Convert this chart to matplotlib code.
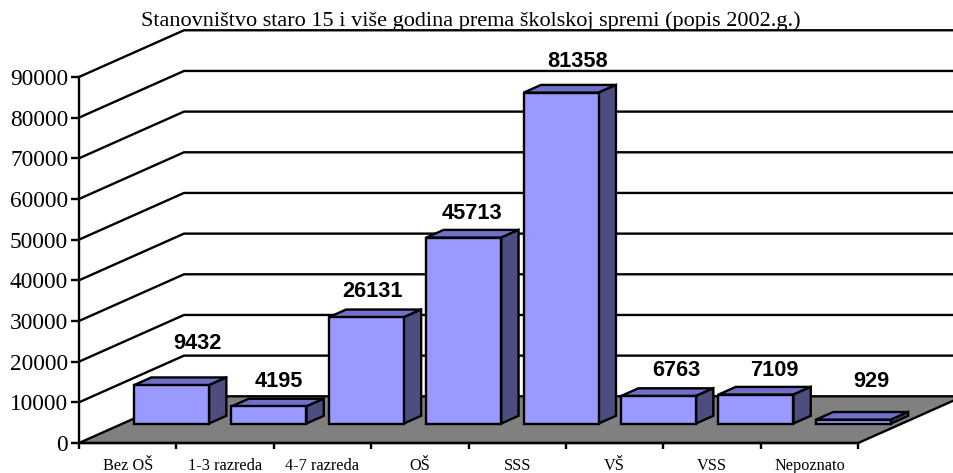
import matplotlib
matplotlib.use('Agg')
import matplotlib.pyplot as plt

# podaci
categories = ['Bez OŠ', '1-3 razreda', '4-7 razreda', 'OŠ', 'SSS', 'VŠ', 'VSS', 'Nepoznato']
values = [9432, 4195, 26131, 45713, 81358, 6763, 7109, 929]
y_ticks = list(range(0, 100000, 10000))
title = 'Stanovništvo staro 15 i više godina prema školskoj spremi (popis 2002.g.)'

# ručno pomaknute oznake u izvorniku (pikseli, desno i gore od vrha stupca)
label_nudge = [(26, 42), (10, 25), (6, 26), (8, 24), (16, 31), (18, 25), (18, 24), (18, 38)]

W, H = 954, 473
X0, Y0 = 79, 443        # ishodište u pikselima
PX_CAT = 97.4           # pikseli po kategoriji
PX_VAL = 40.67 / 10000  # pikseli po jedinici
DEPTH_X = 105 / PX_CAT  # pomak stražnjeg zida
DEPTH_Y = 46.7 / PX_VAL
BAR_W = 0.77
BAR_D0, BAR_D1 = 0.4175, 0.5825

FRONT = '#9999ff'
TOP = '#7070c8'
SIDE = '#4d4d80'
FLOOR = '#808080'
LW = 1.7


def proj(x, y, d):
    return x + d * DEPTH_X, y + d * DEPTH_Y


def face(ax, pts, color, z):
    xs = [p[0] for p in pts]
    ys = [p[1] for p in pts]
    ax.fill(xs, ys, facecolor=color, edgecolor='black', lw=LW, joinstyle='miter', zorder=z)


fig = plt.figure(figsize=(W / 100, H / 100), dpi=100)
ax = fig.add_axes([0, 0, 1, 1])
ax.set_xlim(-X0 / PX_CAT, (W - X0) / PX_CAT)
ax.set_ylim((Y0 - H) / PX_VAL, Y0 / PX_VAL)
ax.patch.set_alpha(0)

n = len(categories)

# mreža na zidovima
for t in y_ticks[1:]:
    pts = [proj(0, t, 0), proj(0, t, 1), proj(n, t, 1)]
    ax.plot([p[0] for p in pts], [p[1] for p in pts], color='black', lw=LW, zorder=1)

# pod
face(ax, [proj(0, 0, 0), proj(n, 0, 0), proj(n, 0, 1), proj(0, 0, 1)], FLOOR, 2)

# stupci
gap = (1 - BAR_W) / 2
for i, v in enumerate(values):
    x0, x1 = i + gap, i + 1 - gap
    face(ax, [proj(x0, v, BAR_D0), proj(x1, v, BAR_D0), proj(x1, v, BAR_D1), proj(x0, v, BAR_D1)], TOP, 3 + i)
    face(ax, [proj(x1, 0, BAR_D0), proj(x1, 0, BAR_D1), proj(x1, v, BAR_D1), proj(x1, v, BAR_D0)], SIDE, 3 + i)
    face(ax, [proj(x0, 0, BAR_D0), proj(x1, 0, BAR_D0), proj(x1, v, BAR_D0), proj(x0, v, BAR_D0)], FRONT, 3 + i)
    lx, ly = proj((x0 + x1) / 2, v, BAR_D0)
    dx, dy = label_nudge[i]
    ax.annotate(str(v), (lx, ly), xytext=(dx * 0.72, dy * 0.72), textcoords='offset points',
                ha='center', va='center', family='Liberation Sans', weight='bold',
                fontsize=15.7, color='black', zorder=20)

# osi
for s in ['top', 'right']:
    ax.spines[s].set_visible(False)
ax.spines['left'].set_position(('data', 0))
ax.spines['bottom'].set_position(('data', 0))
ax.spines['left'].set_bounds(0, y_ticks[-1])
ax.spines['bottom'].set_bounds(0, n)
for s in ['left', 'bottom']:
    ax.spines[s].set_linewidth(LW)
    ax.spines[s].set_zorder(30)
ax.set_axisbelow(False)

ax.set_yticks(y_ticks)
ax.tick_params(axis='y', length=5.8, width=LW, pad=2, labelsize=16.8, labelfontfamily='Liberation Serif')
ax.set_xticks(range(n + 1))
ax.set_xticklabels([])
ax.tick_params(axis='x', which='major', length=4.3, width=LW)
ax.set_xticks([i + 0.5 for i in range(n)], minor=True)
ax.set_xticklabels(categories, minor=True)
ax.tick_params(axis='x', which='minor', length=0, pad=11, labelsize=11.7, labelfontfamily='Liberation Serif')

fig.text(471 / W, 1 - 21 / H, title, ha='center', va='center', family='Liberation Serif', fontsize=16)

plt.savefig('out.png', dpi=100)
